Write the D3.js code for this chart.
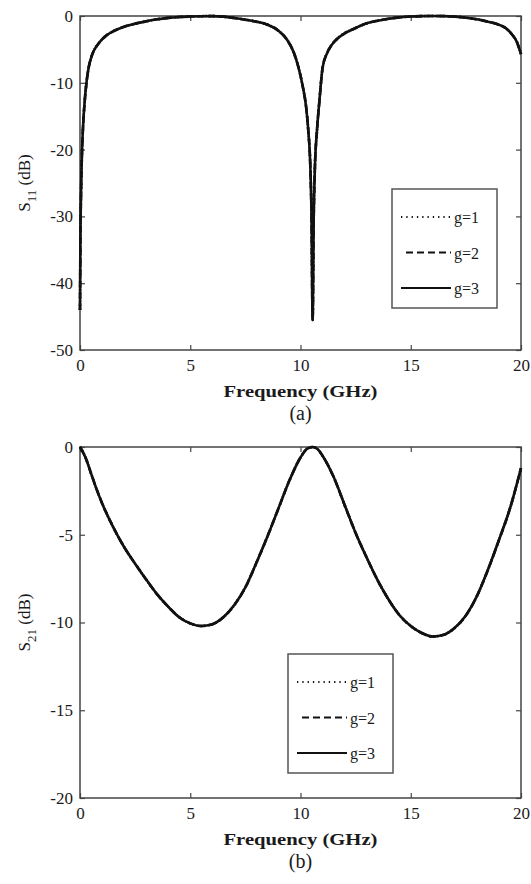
<!DOCTYPE html>
<html>
<head>
<meta charset="utf-8">
<script src="https://cdn.jsdelivr.net/npm/d3@7"></script>
<style>
  body { margin: 0; background: #ffffff; }
  #chart svg { display: block; }
  #chart text { font-family: 'Times New Roman', 'Liberation Serif', 'DejaVu Serif', serif; fill: #1a1a1a; }
  #chart .tick text { font-size: 17px; }
  #chart .tick line { stroke: #444444; stroke-width: 1.2px; }
  #chart .frame { fill: none; stroke: #444444; stroke-width: 1.5px; }
  #chart .curve { fill: none; stroke: #111111; stroke-width: 2.6px; }
  #chart .legend-box { fill: #ffffff; stroke: #555555; stroke-width: 1.5px; }
  #chart .legend-line { stroke: #111111; stroke-width: 2px; }
  #chart .legend-text { font-size: 16px; }
  #chart .x-label { font-size: 17px; font-weight: bold; }
  #chart .y-label { font-size: 17px; }
  #chart .caption { font-size: 20px; }
</style>
</head>
<body>
<div id="chart"></div>
<script>
/* ── DATA ───────────────────────────────────────────────── */
const freqS11 = [0, 0.02, 0.05, 0.1, 0.15, 0.2, 0.3, 0.4, 0.5, 0.6, 0.8, 1.0, 1.2, 1.5, 2.0, 2.5, 3.0,
  3.5, 4.0, 4.5, 5.0, 5.5, 6.0, 6.5, 7.0, 7.5, 8.0, 8.5, 9.0, 9.4, 9.7, 9.9, 10.1, 10.25, 10.35,
  10.45, 10.5, 10.55, 10.6, 10.65, 10.75, 10.85, 11.0, 11.2, 11.4, 11.7, 12.0, 12.5, 13.0, 13.5,
  14.0, 14.5, 15.0, 15.5, 16.0, 16.5, 17.0, 17.5, 18.0, 18.5, 19.0, 19.3, 19.6, 19.8, 20.0];
const s11 = [-44, -33, -26, -19.5, -15.8, -13.3, -9.8, -7.6, -6.3, -5.4, -4.3, -3.5, -2.9, -2.3, -1.6,
  -1.15, -0.8, -0.5, -0.28, -0.15, -0.08, -0.03, -0.02, -0.1, -0.3, -0.55, -0.85, -1.3, -2.2, -3.6,
  -5.5, -7.6, -10.5, -13.5, -17, -23, -30, -45.5, -30, -23, -17, -13, -7.8, -5.6, -4.4, -3.3, -2.6,
  -1.8, -1.1, -0.7, -0.4, -0.2, -0.08, -0.02, 0, -0.02, -0.1, -0.25, -0.5, -0.85, -1.3, -1.8, -2.8,
  -3.8, -5.7];

const freqS21 = [0, 0.25, 0.5, 0.75, 1.0, 1.5, 2.0, 2.5, 3.0, 3.5, 4.0, 4.5, 5.0, 5.5, 6.0, 6.5, 7.0,
  7.5, 8.0, 8.5, 9.0, 9.5, 10.0, 10.3, 10.55, 10.8, 11.0, 11.5, 12.0, 12.5, 13.0, 13.5, 14.0, 14.5,
  15.0, 15.5, 16.0, 16.5, 17.0, 17.5, 18.0, 18.5, 19.0, 19.5, 20.0];
const s21 = [0, -0.6, -1.5, -2.4, -3.2, -4.55, -5.7, -6.65, -7.55, -8.4, -9.1, -9.7, -10.05, -10.2,
  -10.1, -9.7, -9.0, -8.0, -6.6, -5.1, -3.5, -1.9, -0.6, -0.1, 0, -0.15, -0.5, -1.7, -3.3, -4.9, -6.3,
  -7.6, -8.7, -9.6, -10.2, -10.6, -10.8, -10.7, -10.3, -9.6, -8.5, -7.0, -5.3, -3.5, -1.2];

const seriesNames = ["g=1", "g=2", "g=3"];
const freqTicks = [0, 5, 10, 15, 20];
const s11Ticks = [0, -10, -20, -30, -40, -50];
const s21Ticks = [0, -5, -10, -15, -20];

(function () {

  const W = 531, H = 884;
  const plotLeft = 80, plotRight = 521;

  // dash pattern per series (g=1 dotted, g=2 dashed, g=3 solid)
  const dashes = ["1.3,2.6", "7,4", null];

  const panels = [
    { freq: freqS11, vals: s11, ticks: s11Ticks, domain: [-50, 0], top: 16, bottom: 350,
      sub: "11", caption: "(a)", legend: { x: 392, y: 189 } },
    { freq: freqS21, vals: s21, ticks: s21Ticks, domain: [-20, 0], top: 447, bottom: 798,
      sub: "21", caption: "(b)", legend: { x: 288, y: 654 } }
  ];

  const svg = d3.select("#chart")
    .append("svg")
      .attr("width", W)
      .attr("height", H);

  panels.forEach(p => {
    const x = d3.scaleLinear().domain([0, 20]).range([plotLeft, plotRight]);
    const y = d3.scaleLinear().domain(p.domain).range([p.bottom, p.top]);
    const g = svg.append("g");

    // ── axes (inward ticks, mirrored on top/right like MATLAB)
    g.append("g")
      .attr("transform", `translate(0,${p.bottom})`)
      .call(d3.axisBottom(x).tickValues(freqTicks).tickFormat(d3.format("d"))
        .tickSizeInner(-5).tickSizeOuter(0).tickPadding(9))
      .call(a => a.select(".domain").remove());

    g.append("g")
      .attr("transform", `translate(0,${p.top})`)
      .call(d3.axisTop(x).tickValues(freqTicks).tickFormat("")
        .tickSizeInner(-5).tickSizeOuter(0))
      .call(a => a.select(".domain").remove());

    g.append("g")
      .attr("transform", `translate(${plotLeft},0)`)
      .call(d3.axisLeft(y).tickValues(p.ticks).tickFormat(d3.format("d"))
        .tickSizeInner(-5).tickSizeOuter(0).tickPadding(7))
      .call(a => a.select(".domain").remove());

    g.append("g")
      .attr("transform", `translate(${plotRight},0)`)
      .call(d3.axisRight(y).tickValues(p.ticks).tickFormat("")
        .tickSizeInner(-5).tickSizeOuter(0))
      .call(a => a.select(".domain").remove());

    // plain hyphen for negatives, as in the original
    g.selectAll(".tick text").text(function () { return this.textContent.replace("\u2212", "-"); });

    g.append("rect")
      .attr("class", "frame")
      .attr("x", plotLeft)
      .attr("y", p.top)
      .attr("width", plotRight - plotLeft)
      .attr("height", p.bottom - p.top);

    // ── curves: three overlapping series
    const pts = p.freq.map((f, i) => ({ f: f, v: p.vals[i] }));
    const line = d3.line()
      .x(d => x(d.f))
      .y(d => y(d.v))
      .curve(d3.curveMonotoneX);

    seriesNames.forEach((name, i) => {
      g.append("path")
        .datum(pts)
        .attr("class", "curve")
        .attr("stroke-dasharray", dashes[i])
        .attr("d", line);
    });

    // ── legend
    const lg = g.append("g").attr("transform", `translate(${p.legend.x},${p.legend.y})`);
    lg.append("rect")
      .attr("class", "legend-box")
      .attr("width", 105)
      .attr("height", 119);

    seriesNames.forEach((name, i) => {
      const cy = 28 + i * 35.5;
      lg.append("line")
        .attr("class", "legend-line")
        .attr("x1", i === 1 ? 14 : 9)
        .attr("x2", 59)
        .attr("y1", cy)
        .attr("y2", cy)
        .attr("stroke-width", i === 0 ? 1.4 : 2.2)
        .attr("stroke-dasharray", i === 0 ? "1.3,4" : dashes[i]);
      lg.append("text")
        .attr("class", "legend-text")
        .attr("x", 62)
        .attr("y", cy + 6)
        .text(name);
    });

    // ── labels
    g.append("text")
      .attr("class", "x-label")
      .attr("x", (plotLeft + plotRight) / 2)
      .attr("y", p.bottom + 47)
      .attr("text-anchor", "middle")
      .attr("textLength", 154)
      .attr("lengthAdjust", "spacingAndGlyphs")
      .text("Frequency (GHz)");

    g.append("text")
      .attr("class", "caption")
      .attr("x", (plotLeft + plotRight) / 2)
      .attr("y", p.bottom + 70)
      .attr("text-anchor", "middle")
      .text(p.caption);

    const yl = g.append("text")
      .attr("class", "y-label")
      .attr("transform", `translate(30,${(p.top + p.bottom) / 2}) rotate(-90)`)
      .attr("text-anchor", "middle");
    yl.append("tspan").text("S");
    yl.append("tspan").attr("font-size", "13px").attr("dy", 6).text(p.sub);
    yl.append("tspan").attr("dy", -6).text(" (dB)");
  });

})();
</script>
</body>
</html>
